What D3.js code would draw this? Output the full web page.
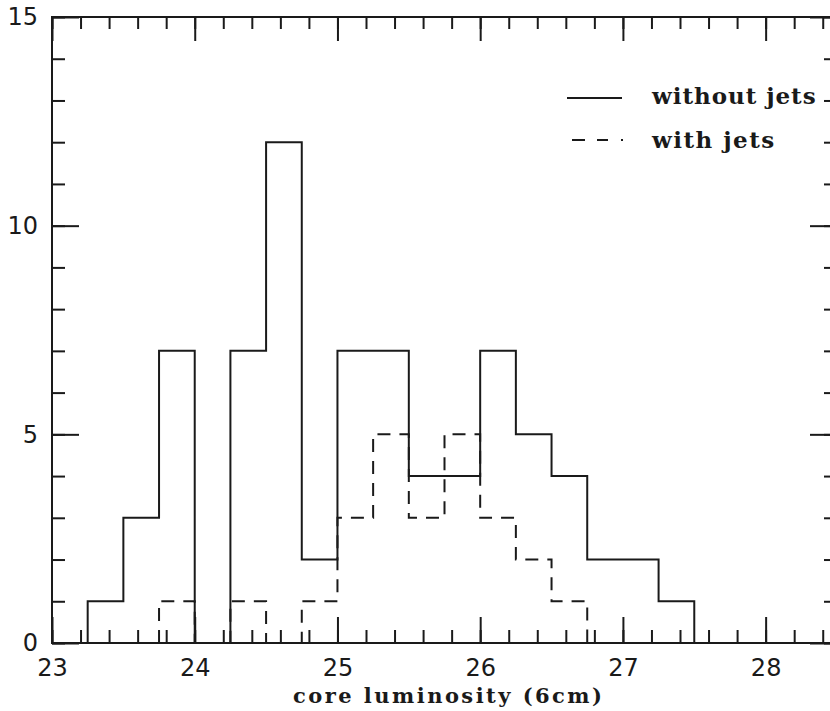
<!DOCTYPE html>
<html>
<head>
<meta charset="utf-8">
<script src="https://cdn.jsdelivr.net/npm/d3@7"></script>
<style>
  body { margin: 0; background: #fff; }
  svg { display: block; }
  .tick text { font-family: "DejaVu Sans", sans-serif; font-size: 24px; fill: #1a1a1a; }
  .axis path.domain { display: none; }
  .axis line { stroke: #1a1a1a; stroke-width: 2px; }
</style>
</head>
<body>
<div id="chart"></div>
<script>
var width = 830,
    height = 711;

// bin left edges (bin width 0.25)
var binWidth = 0.25;
var binsWithout = [23.25, 23.5, 23.75, 24, 24.25, 24.5, 24.75, 25, 25.25, 25.5, 25.75, 26, 26.25, 26.5, 26.75, 27, 27.25];
var countsWithout = [1, 3, 7, 0, 7, 12, 2, 7, 7, 4, 4, 7, 5, 4, 2, 2, 1];

var binsWith = [23.75, 24, 24.25, 24.5, 24.75, 25, 25.25, 25.5, 25.75, 26, 26.25, 26.5];
var countsWith = [1, 0, 1, 0, 1, 3, 5, 3, 5, 3, 2, 1];

var xMajor = [23, 24, 25, 26, 27, 28];
var yMajor = [0, 5, 10, 15];
var legendLabels = ["without jets", "with jets"];
var xLabel = "core luminosity (6cm)";

var plotLeft = 52, plotRight = 837, plotTop = 17, plotBottom = 643;

var x = d3.scaleLinear().domain([23, 28.5]).range([plotLeft, plotRight]);
var y = d3.scaleLinear().domain([0, 15]).range([plotBottom, plotTop]);

var xMinor = d3.range(0, 28).map(function(i) { return 23 + i * 0.2; });
var yMinor = d3.range(0, 16);

var svg = d3.select("#chart").append("svg")
    .attr("width", width)
    .attr("height", height);

svg.append("rect").attr("width", width).attr("height", height).attr("fill", "#fff");

// frame
svg.append("rect")
    .attr("x", plotLeft).attr("y", plotTop)
    .attr("width", plotRight - plotLeft).attr("height", plotBottom - plotTop)
    .attr("fill", "none")
    .attr("stroke", "#1a1a1a")
    .attr("stroke-width", 2);

// bottom axis
svg.append("g").attr("class", "axis")
    .attr("transform", "translate(0," + plotBottom + ")")
    .call(d3.axisBottom(x).tickValues(xMinor).tickSize(-13).tickFormat(""));
svg.append("g").attr("class", "axis")
    .attr("transform", "translate(0," + plotBottom + ")")
    .call(d3.axisBottom(x).tickValues(xMajor).tickSize(-26).tickPadding(16).tickFormat(d3.format("d")));

// top axis
svg.append("g").attr("class", "axis")
    .attr("transform", "translate(0," + plotTop + ")")
    .call(d3.axisTop(x).tickValues(xMinor).tickSize(-12).tickFormat(""));
svg.append("g").attr("class", "axis")
    .attr("transform", "translate(0," + plotTop + ")")
    .call(d3.axisTop(x).tickValues(xMajor).tickSize(-24).tickFormat(""));

// left axis
svg.append("g").attr("class", "axis")
    .attr("transform", "translate(" + plotLeft + ",0)")
    .call(d3.axisLeft(y).tickValues(yMinor).tickSize(-13).tickFormat(""));
svg.append("g").attr("class", "axis")
    .attr("transform", "translate(" + plotLeft + ",0)")
    .call(d3.axisLeft(y).tickValues(yMajor).tickSize(-27).tickPadding(14).tickFormat(d3.format("d")));

// right axis
svg.append("g").attr("class", "axis")
    .attr("transform", "translate(" + plotRight + ",0)")
    .call(d3.axisRight(y).tickValues(yMinor).tickSize(-13).tickFormat(""));
svg.append("g").attr("class", "axis")
    .attr("transform", "translate(" + plotRight + ",0)")
    .call(d3.axisRight(y).tickValues(yMajor).tickSize(-27).tickFormat(""));

// step outline of a histogram
function stepPoints(bins, counts) {
  var pts = [[bins[0], 0]];
  bins.forEach(function(b, i) {
    pts.push([b, counts[i]]);
    pts.push([b + binWidth, counts[i]]);
  });
  pts.push([bins[bins.length - 1] + binWidth, 0]);
  return pts;
}

var line = d3.line()
    .x(function(d) { return x(d[0]); })
    .y(function(d) { return y(d[1]); });

svg.append("path")
    .datum(stepPoints(binsWith, countsWith))
    .attr("d", line)
    .attr("fill", "none")
    .attr("stroke", "#1a1a1a")
    .attr("stroke-width", 2)
    .attr("stroke-dasharray", "13,9");

svg.append("path")
    .datum(stepPoints(binsWithout, countsWithout))
    .attr("d", line)
    .attr("fill", "none")
    .attr("stroke", "#1a1a1a")
    .attr("stroke-width", 2);

// legend
var legend = svg.append("g");
legend.append("line")
    .attr("x1", 567).attr("x2", 622).attr("y1", 98).attr("y2", 98)
    .attr("stroke", "#1a1a1a").attr("stroke-width", 2);
legend.append("line")
    .attr("x1", 572).attr("x2", 624).attr("y1", 140).attr("y2", 140)
    .attr("stroke", "#1a1a1a").attr("stroke-width", 2)
    .attr("stroke-dasharray", "13,12,11,13,2");

legend.selectAll("text")
    .data(legendLabels)
    .enter().append("text")
    .attr("x", 652)
    .attr("y", function(d, i) { return 104 + i * 44; })
    .attr("textLength", function(d) { return d.length * 13.8 - 2; })
    .attr("lengthAdjust", "spacing")
    .style("font-family", "'DejaVu Serif', serif")
    .style("font-weight", "bold")
    .style("font-size", "23px")
    .style("fill", "#1a1a1a")
    .text(function(d) { return d; });

svg.append("text")
    .attr("x", 293)
    .attr("y", 703)
    .attr("textLength", 309)
    .attr("lengthAdjust", "spacing")
    .style("font-family", "'DejaVu Serif', serif")
    .style("font-weight", "bold")
    .style("font-size", "21px")
    .style("fill", "#1a1a1a")
    .text(xLabel);
</script>
</body>
</html>
